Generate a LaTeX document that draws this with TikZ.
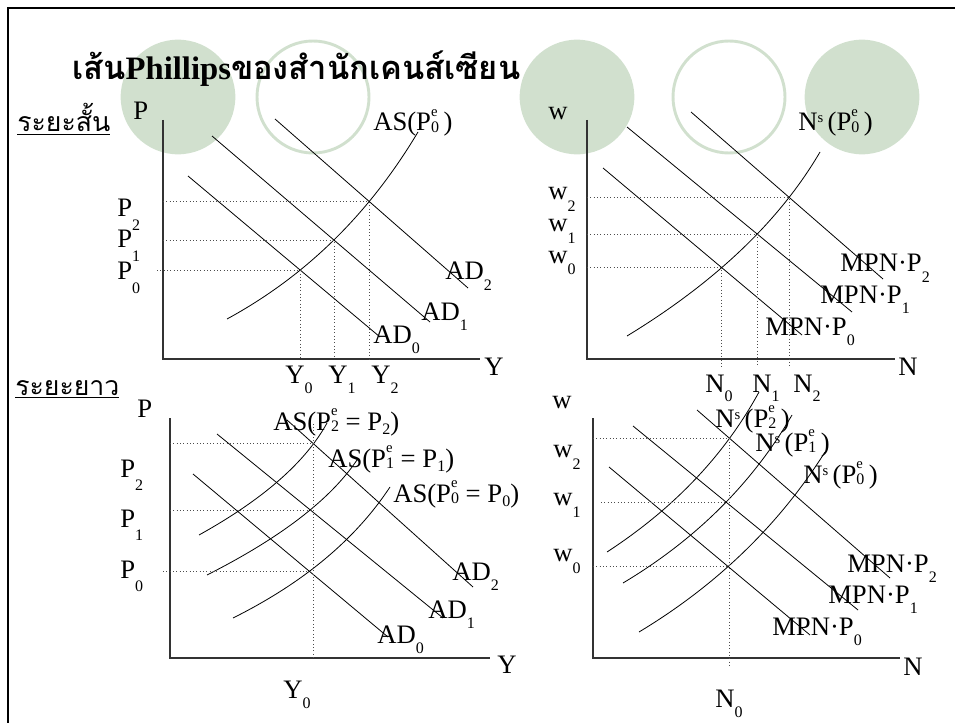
\documentclass[tikz,border=0pt]{standalone}
\usepackage{fontspec}
\setmainfont{Liberation Serif}
\newfontfamily\thaifont[Script=Thai]{Loma}
\usepackage{tikz}
\usetikzlibrary{calc,intersections}

\definecolor{sage}{RGB}{209,224,206}
\newcommand{\subfont}{\fontsize{12}{12}\selectfont}
\newcommand{\supfont}{\fontsize{11}{11}\selectfont}
\newcommand{\lo}[2][8pt]{\raisebox{-#1}{\subfont #2}}
\newcommand{\ue}[1]{\makebox[0pt][l]{\raisebox{11pt}{\supfont e}}\raisebox{-1pt}{\subfont #1}}
\newcommand{\ns}{N\raisebox{6pt}{\supfont s}}

\begin{document}
\begin{tikzpicture}[
  x=0.75pt, y=-0.75pt,
  lbl/.style={anchor=base west, inner sep=0pt, font=\fontsize{20}{24}\selectfont},
  thai/.style={anchor=base west, inner sep=0pt, font=\thaifont\fontsize{20}{24}\selectfont},
  blob/.style={circle, fill=sage, minimum size=86pt, inner sep=0pt},
  ring/.style={circle, draw=sage, line width=2.2pt, minimum size=84pt, inner sep=0pt},
  axis/.style={line width=0.8pt, black!80},
  curve/.style={line width=0.6pt},
  guide/.style={dotted, line width=0.5pt, black!70}
]
\useasboundingbox (0,0) rectangle (955,723);
\draw[line width=2.2pt] (8,730) -- (8,8) -- (960,8);

\node[blob] (c1) at (178,97) {};
\node[ring] (c2) at (313,97) {};
\node[blob] (c3) at (577,97) {};
\node[ring] (c4) at (729,97) {};
\node[blob] (c5) at (862,97) {};

\node[anchor=base west, inner sep=0pt, font=\fontsize{24.5}{28}\selectfont\bfseries] (title) at (72,80)
  {{\thaifont เส้น}Phillips{\thaifont ของสำนักเคนส์เซียน}};
\node[thai] (short) at (17,132) {\underline{ระยะสั้น}};
\node[thai] (long) at (15,395) {\underline{ระยะยาว}};

\coordinate (tlo) at (163,359);
\coordinate (tltop) at (163,120);
\coordinate (tlend) at (480,359);
\draw[axis] (tltop) -- (tlo) -- (tlend);
\draw[curve, name path=tlad0] (188,176) -- (380,337);
\draw[curve, name path=tlad1] (212,136) -- (430,322);
\draw[curve, name path=tlad2] (275,119) -- (468,288);
\draw[curve, name path=tlas] (227,319) .. controls (306,276) and (369,214) .. (418,132);
\path[name intersections={of=tlas and tlad0, by=tle0}];
\path[name intersections={of=tlas and tlad1, by=tle1}];
\path[name intersections={of=tlas and tlad2, by=tle2}];
\draw[guide] ($(tlo |- tle0)+(-6,0)$) -- (tle0) -- (tle0 |- tlo);
\draw[guide] (tlo |- tle1) -- (tle1) -- (tle1 |- tlo);
\draw[guide] (tlo |- tle2) -- (tle2) -- (tle2 |- tlo);
\node[lbl] (tlp) at (133,120) {P};
\node[lbl] (tlp2) at (117,217) {P\lo[10pt]{2}};
\node[lbl] (tlp1) at (117,248) {P\lo[10pt]{1}};
\node[lbl] (tlp0) at (117,280) {P\lo[10pt]{0}};
\node[lbl] (tly) at (484,375) {Y};
\node[lbl] (tly0) at (285,383) {Y\lo{0}};
\node[lbl] (tly1) at (328,383) {Y\lo{1}};
\node[lbl] (tly2) at (371,383) {Y\lo{2}};
\node[lbl] (tlas) at (373,131) {AS(P\ue{0}\,)};
\node[lbl] (tlad2) at (445,280) {AD\lo{2}};
\node[lbl] (tlad1) at (421,320) {AD\lo{1}};
\node[lbl] (tlad0) at (373,343) {AD\lo{0}};

\coordinate (tro) at (587,359);
\coordinate (trtop) at (587,120);
\coordinate (trend) at (895,359);
\draw[axis] (trtop) -- (tro) -- (trend);
\draw[curve, name path=trm0] (603,168) -- (802,335);
\draw[curve, name path=trm1] (627,127) -- (852,312);
\draw[curve, name path=trm2] (691,112) -- (883,279);
\draw[curve, name path=trns] (627,336) .. controls (714,283) and (779,222) .. (820,152);
\path[name intersections={of=trns and trm0, by=tre0}];
\path[name intersections={of=trns and trm1, by=tre1}];
\path[name intersections={of=trns and trm2, by=tre2}];
\draw[guide] (tro |- tre0) -- (tre0) -- ($(tre0 |- tro)+(0,8)$);
\draw[guide] (tro |- tre1) -- (tre1) -- ($(tre1 |- tro)+(0,8)$);
\draw[guide] (tro |- tre2) -- (tre2) -- ($(tre2 |- tro)+(0,8)$);
\node[lbl] (trw) at (548,120) {w};
\node[lbl] (trw2) at (548,200) {w\lo[9pt]{2}};
\node[lbl] (trw1) at (548,232) {w\lo[9pt]{1}};
\node[lbl] (trw0) at (548,263) {w\lo[9pt]{0}};
\node[lbl] (trn) at (898,375) {N};
\node[lbl] (trn0) at (705,392) {N\lo[7pt]{0}};
\node[lbl] (trn1) at (752,392) {N\lo[7pt]{1}};
\node[lbl] (trn2) at (793,392) {N\lo[7pt]{2}};
\node[lbl] (trns) at (798,131) {\ns\,(P\ue{0}\,)};
\node[lbl] (trm2) at (840,272) {MPN·P\lo{2}};
\node[lbl] (trm1) at (820,303) {MPN·P\lo{1}};
\node[lbl] (trm0) at (765,335) {MPN·P\lo{0}};

\coordinate (blo) at (170,658);
\coordinate (bltop) at (170,418);
\coordinate (blend) at (490,658);
\draw[axis] (bltop) -- (blo) -- (blend);
\draw[curve, name path=blad0] (193,474) -- (388,637);
\draw[curve, name path=blad1] (217,434) -- (443,618);
\draw[curve, name path=blad2] (287,420) -- (473,587);
\draw[curve, name path=blas2] (199,535) .. controls (262,500) and (305,463) .. (327,423);
\draw[curve, name path=blas1] (207,575) .. controls (280,538) and (330,500) .. (357,460);
\draw[curve, name path=blas0] (233,618) .. controls (303,583) and (355,540) .. (390,487);
\path[name intersections={of=blas0 and blad0, by=ble0}];
\path[name intersections={of=blas1 and blad1, by=ble1}];
\path[name intersections={of=blas2 and blad2, by=ble2}];
\draw[guide] ($(blo |- ble0)+(-7,0)$) -- (ble0);
\draw[guide] (blo |- ble1) -- (ble1);
\draw[guide] (blo |- ble2) -- (ble2);
\draw[guide] ($(ble2)+(0,-20)$) -- (ble2 |- blo);
\node[lbl] (blp) at (137,417) {P};
\node[lbl] (blp2) at (120,477) {P\lo[10pt]{2}};
\node[lbl] (blp1) at (120,527) {P\lo[10pt]{1}};
\node[lbl] (blp0) at (120,578) {P\lo[10pt]{0}};
\node[lbl] (bly) at (497,673) {Y};
\node[lbl] (bly0) at (283,698) {Y\lo{0}};
\node[lbl] (blas2) at (273,430) {AS(P\ue{2} = P\lo[3pt]{2})};
\node[lbl] (blas1) at (328,467) {AS(P\ue{1} = P\lo[3pt]{1})};
\node[lbl] (blas0) at (393,502) {AS(P\ue{0} = P\lo[3pt]{0})};
\node[lbl] (blad2) at (452,580) {AD\lo{2}};
\node[lbl] (blad1) at (428,618) {AD\lo{1}};
\node[lbl] (blad0) at (377,643) {AD\lo{0}};

\coordinate (bro) at (593,658);
\coordinate (brtop) at (593,418);
\coordinate (brend) at (900,658);
\draw[axis] (brtop) -- (bro) -- (brend);
\draw[curve, name path=brm0] (609,467) -- (810,635);
\draw[curve, name path=brm1] (633,426) -- (858,610);
\draw[curve, name path=brm2] (697,410) -- (890,578);
\draw[curve, name path=brns2] (607,552) .. controls (673,509) and (724,456) .. (759,392);
\draw[curve, name path=brns1] (623,583) .. controls (695,540) and (752,484) .. (792,415);
\draw[curve, name path=brns0] (639,632) .. controls (717,585) and (779,525) .. (825,452);
\path[name intersections={of=brns0 and brm0, by=bre0}];
\path[name intersections={of=brns1 and brm1, by=bre1}];
\path[name intersections={of=brns2 and brm2, by=bre2}];
\draw[guide] (bro |- bre0) -- (bre0);
\draw[guide] ($(bro |- bre1)+(8,0)$) -- (bre1);
\draw[guide] (bro |- bre2) -- (bre2);
\draw[guide] (bre2) -- ($(bre2 |- bro)+(0,7)$);
\node[lbl] (brw) at (552,408) {w};
\node[lbl] (brw2) at (553,457) {w\lo[9pt]{2}};
\node[lbl] (brw1) at (553,505) {w\lo[9pt]{1}};
\node[lbl] (brw0) at (553,561) {w\lo[9pt]{0}};
\node[lbl] (brn) at (903,675) {N};
\node[lbl] (brn0) at (715,707) {N\lo{0}};
\node[lbl] (brns2) at (715,427) {\ns\,(P\ue{2}\,)};
\node[lbl] (brns1) at (755,451) {\ns\,(P\ue{1}\,)};
\node[lbl] (brns0) at (803,483) {\ns\,(P\ue{0}\,)};
\node[lbl] (brm2) at (847,572) {MPN·P\lo{2}};
\node[lbl] (brm1) at (828,603) {MPN·P\lo{1}};
\node[lbl] (brm0) at (772,635) {MPN·P\lo{0}};
\end{tikzpicture}
\end{document}
